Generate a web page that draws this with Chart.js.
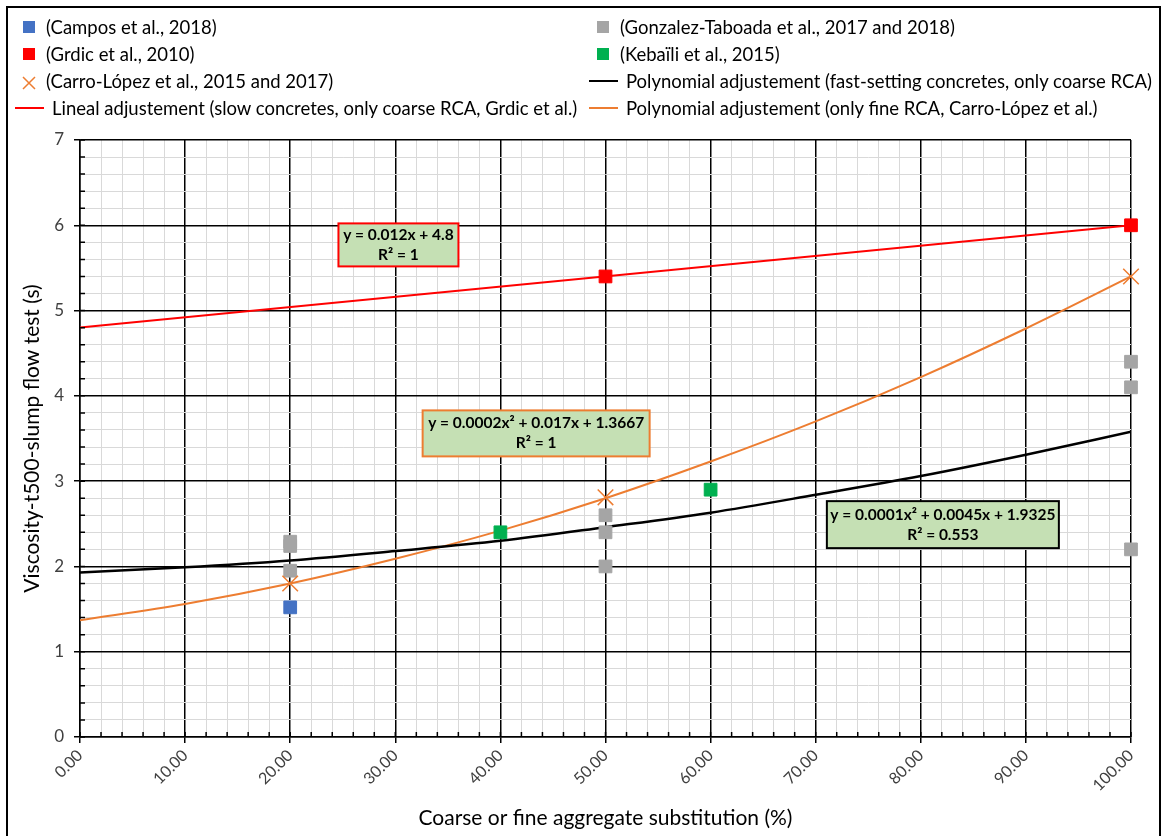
<!DOCTYPE html>
<html>
<head>
<meta charset="utf-8">
<script src="https://cdn.jsdelivr.net/npm/chart.js@4"></script>
<style>
  body { margin: 0; background: #fff; font-family: Lato, sans-serif; }
  #wrap { position: relative; width: 1164px; height: 836px; overflow: hidden; }
  #frame { position: absolute; left: 6px; top: 6px; width: 1155px; height: 860px; border: 2px solid #000; box-sizing: border-box; }
  #chart { position: absolute; left: 0; top: 0; }
  .lg-text { position: absolute; font-size: 18.5px; line-height: 22px; color: #000; white-space: nowrap; }
  .lg-key { position: absolute; }
</style>
</head>
<body>
<div id="wrap">
  <div id="frame"></div>
  <canvas id="chart" width="1164" height="836"></canvas>
  <div id="legend"></div>
</div>
<script>
// measured points
const camposX = [20]
const camposY = [1.52]
const grdicX = [50, 100]
const grdicY = [5.4, 6.0]
const carroX = [20, 50, 100]
const carroY = [1.8, 2.81, 5.4]
const gonzalezX = [20, 20, 20, 50, 50, 50, 100, 100, 100]
const gonzalezY = [2.29, 2.24, 1.95, 2.6, 2.4, 2.0, 4.4, 4.1, 2.2]
const kebailiX = [40, 60]
const kebailiY = [2.4, 2.9]

// trend lines
const linealX = [0, 100]
const linealY = [4.8, 6.0]
const curveX = [0, 10, 20, 30, 40, 50, 60, 70, 80, 90, 100]
const fastY = [1.93, 1.99, 2.07, 2.18, 2.3, 2.46, 2.63, 2.84, 3.06, 3.31, 3.58]
const fineY = [1.37, 1.56, 1.8, 2.09, 2.42, 2.8, 3.23, 3.7, 4.22, 4.79, 5.4]

const seriesNames = [
  '(Campos et al., 2018)',
  '(Gonzalez-Taboada et al., 2017 and 2018)',
  '(Grdic et al., 2010)',
  '(Kebaïli et al., 2015)',
  '(Carro-López et al., 2015 and 2017)',
  'Polynomial adjustement (fast-setting concretes, only coarse RCA)',
  'Lineal adjustement (slow concretes, only coarse RCA, Grdic et al.)',
  'Polynomial adjustement (only fine RCA, Carro-López et al.)'
]

const fitLabels = [
  ['y = 0.012x + 4.8', 'R² = 1'],
  ['y = 0.0002x² + 0.017x + 1.3667', 'R² = 1'],
  ['y = 0.0001x² + 0.0045x + 1.9325', 'R² = 0.553']
]

const xTicks = ['0.00', '10.00', '20.00', '30.00', '40.00', '50.00', '60.00', '70.00', '80.00', '90.00', '100.00']

const BLUE = '#4472C4'
const RED = '#FF0000'
const GRAY = '#A5A5A5'
const GREEN = '#00B050'
const ORANGE = '#ED7D31'

function pts (xs, ys) {
  return xs.map((x, i) => ({ x: x, y: ys[i] }))
}

function isMajor (v, step) {
  const r = v / step
  return Math.abs(r - Math.round(r)) < 1e-6
}

const fitBoxes = {
  id: 'fitBoxes',
  afterDatasetsDraw (chart) {
    const ctx = chart.ctx
    const xs = chart.scales.x
    const ys = chart.scales.y
    const boxes = [
      { at: [30.3, 5.77], w: 120, h: 43, border: RED },
      { at: [43.4, 3.56], w: 227, h: 46, border: ORANGE },
      { at: [82.1, 2.49], w: 232, h: 47, border: '#000' }
    ]
    ctx.save()
    boxes.forEach((b, i) => {
      const cx = xs.getPixelForValue(b.at[0])
      const cy = ys.getPixelForValue(b.at[1])
      ctx.fillStyle = '#C5E0B4'
      ctx.fillRect(cx - b.w / 2, cy - b.h / 2, b.w, b.h)
      ctx.lineWidth = 2
      ctx.strokeStyle = b.border
      ctx.strokeRect(cx - b.w / 2, cy - b.h / 2, b.w, b.h)
      ctx.fillStyle = '#000'
      ctx.font = 'bold 15.5px Lato'
      ctx.textAlign = 'center'
      ctx.textBaseline = 'middle'
      ctx.fillText(fitLabels[i][0], cx, cy - 10)
      ctx.fillText(fitLabels[i][1], cx, cy + 10)
    })
    ctx.restore()
  }
}

// short inner tick marks like excel
const innerTicks = {
  id: 'innerTicks',
  afterDraw (chart) {
    const ctx = chart.ctx
    const a = chart.chartArea
    ctx.save()
    ctx.strokeStyle = '#000'
    ctx.lineWidth = 1.5
    ctx.beginPath()
    chart.scales.x.ticks.forEach((t) => {
      const px = chart.scales.x.getPixelForValue(t.value)
      ctx.moveTo(px, a.bottom)
      ctx.lineTo(px, a.bottom - 5)
    })
    chart.scales.y.ticks.forEach((t) => {
      const py = chart.scales.y.getPixelForValue(t.value)
      ctx.moveTo(a.left, py)
      ctx.lineTo(a.left + 5, py)
    })
    ctx.stroke()
    ctx.restore()
  }
}

const datasets = [
  { label: seriesNames[0], data: pts(camposX, camposY), backgroundColor: BLUE, borderColor: BLUE, pointStyle: 'rect', pointRadius: 9, clip: false, order: 1 },
  { label: seriesNames[1], data: pts(gonzalezX, gonzalezY), backgroundColor: GRAY, borderColor: GRAY, pointStyle: 'rect', pointRadius: 9, clip: false, order: 1 },
  { label: seriesNames[2], data: pts(grdicX, grdicY), backgroundColor: RED, borderColor: RED, pointStyle: 'rect', pointRadius: 9, clip: false, order: 1 },
  { label: seriesNames[3], data: pts(kebailiX, kebailiY), backgroundColor: GREEN, borderColor: GREEN, pointStyle: 'rect', pointRadius: 9, clip: false, order: 1 },
  { label: seriesNames[4], data: pts(carroX, carroY), backgroundColor: ORANGE, borderColor: ORANGE, pointStyle: 'crossRot', pointRadius: 11, borderWidth: 1.5, clip: false, order: 0 },
  { label: seriesNames[5], data: pts(curveX, fastY), showLine: true, borderColor: '#000', borderWidth: 2.5, pointRadius: 0, cubicInterpolationMode: 'monotone', order: 2 },
  { label: seriesNames[6], data: pts(linealX, linealY), showLine: true, borderColor: RED, borderWidth: 2, pointRadius: 0, order: 2 },
  { label: seriesNames[7], data: pts(curveX, fineY), showLine: true, borderColor: ORANGE, borderWidth: 2, pointRadius: 0, cubicInterpolationMode: 'monotone', order: 2 }
]

const chart = new Chart(document.getElementById('chart').getContext('2d'), {
  type: 'scatter',
  data: { datasets: datasets },
  options: {
    responsive: false,
    animation: false,
    layout: { padding: { left: 0, right: 33, top: 140, bottom: 0 } },
    plugins: {
      legend: { display: false },
      tooltip: { enabled: false }
    },
    scales: {
      x: {
        type: 'linear',
        min: 0,
        max: 100,
        afterFit: (s) => { s.height = 99 },
        border: { color: '#000', width: 1.5 },
        grid: {
          color: (c) => isMajor(c.tick.value, 10) ? '#000' : '#D9D9D9',
          lineWidth: (c) => isMajor(c.tick.value, 10) ? 1.5 : 1,
          tickColor: (c) => isMajor(c.tick.value, 10) ? '#000' : 'rgba(0,0,0,0)',
          tickLength: 6
        },
        ticks: {
          stepSize: 2,
          autoSkip: false,
          minRotation: 45,
          maxRotation: 45,
          color: '#404040',
          font: { family: 'Lato', size: 16 },
          callback: (v) => isMajor(v, 10) ? xTicks[Math.round(v / 10)] : ''
        },
        title: {
          display: true,
          text: 'Coarse or fine aggregate substitution (%)',
          color: '#000',
          font: { family: 'Lato', size: 21 },
          padding: { top: 0, bottom: 5 }
        }
      },
      y: {
        min: 0,
        max: 7,
        afterFit: (s) => { s.width = 80 },
        border: { color: '#000', width: 1.5 },
        grid: {
          color: (c) => isMajor(c.tick.value, 1) ? '#000' : '#D9D9D9',
          lineWidth: (c) => isMajor(c.tick.value, 1) ? 1.5 : 1,
          tickColor: (c) => isMajor(c.tick.value, 1) ? '#000' : 'rgba(0,0,0,0)',
          tickLength: 6
        },
        ticks: {
          stepSize: 0.2,
          autoSkip: false,
          padding: 10,
          color: '#404040',
          font: { family: 'Lato', size: 17 },
          callback: (v) => isMajor(v, 1) ? String(Math.round(v)) : ''
        },
        title: {
          display: true,
          text: 'Viscosity-t500-slump flow test (s)',
          color: '#000',
          font: { family: 'Lato', size: 21 },
          padding: { top: 20, bottom: 0 }
        }
      }
    }
  },
  plugins: [fitBoxes, innerTicks]
})

// html legend in two columns, built from the datasets
function buildLegend () {
  const holder = document.getElementById('legend')
  const rows = [27, 54, 81, 108]
  const slots = [
    [0, 0], [1, 0], [0, 1], [1, 1], [0, 2], [1, 2], [0, 3], [1, 3]
  ]
  const colKey = [29, 603]
  const colText = [46, 620]
  chart.data.datasets.forEach((ds, i) => {
    const col = slots[i][0]
    const cy = rows[slots[i][1]]
    const key = document.createElement('div')
    key.className = 'lg-key'
    let textLeft = colText[col]
    if (ds.showLine) {
      key.style.left = (colKey[col] - 14) + 'px'
      key.style.top = (cy - 1) + 'px'
      key.style.width = '29px'
      key.style.height = '2px'
      key.style.background = ds.borderColor
      textLeft += 6
    } else if (ds.pointStyle === 'crossRot') {
      key.style.left = (colKey[col] - 7) + 'px'
      key.style.top = (cy - 7) + 'px'
      key.innerHTML = '<svg width="14" height="14"><path d="M1 1L13 13M13 1L1 13" stroke="' + ds.borderColor + '" stroke-width="1.5"/></svg>'
    } else {
      key.style.left = (colKey[col] - 6) + 'px'
      key.style.top = (cy - 6) + 'px'
      key.style.width = '12px'
      key.style.height = '12px'
      key.style.background = ds.backgroundColor
    }
    holder.appendChild(key)
    const t = document.createElement('div')
    t.className = 'lg-text'
    t.style.left = textLeft + 'px'
    t.style.top = (cy - 11) + 'px'
    t.textContent = ds.label
    holder.appendChild(t)
  })
}

buildLegend()
</script>
</body>
</html>
